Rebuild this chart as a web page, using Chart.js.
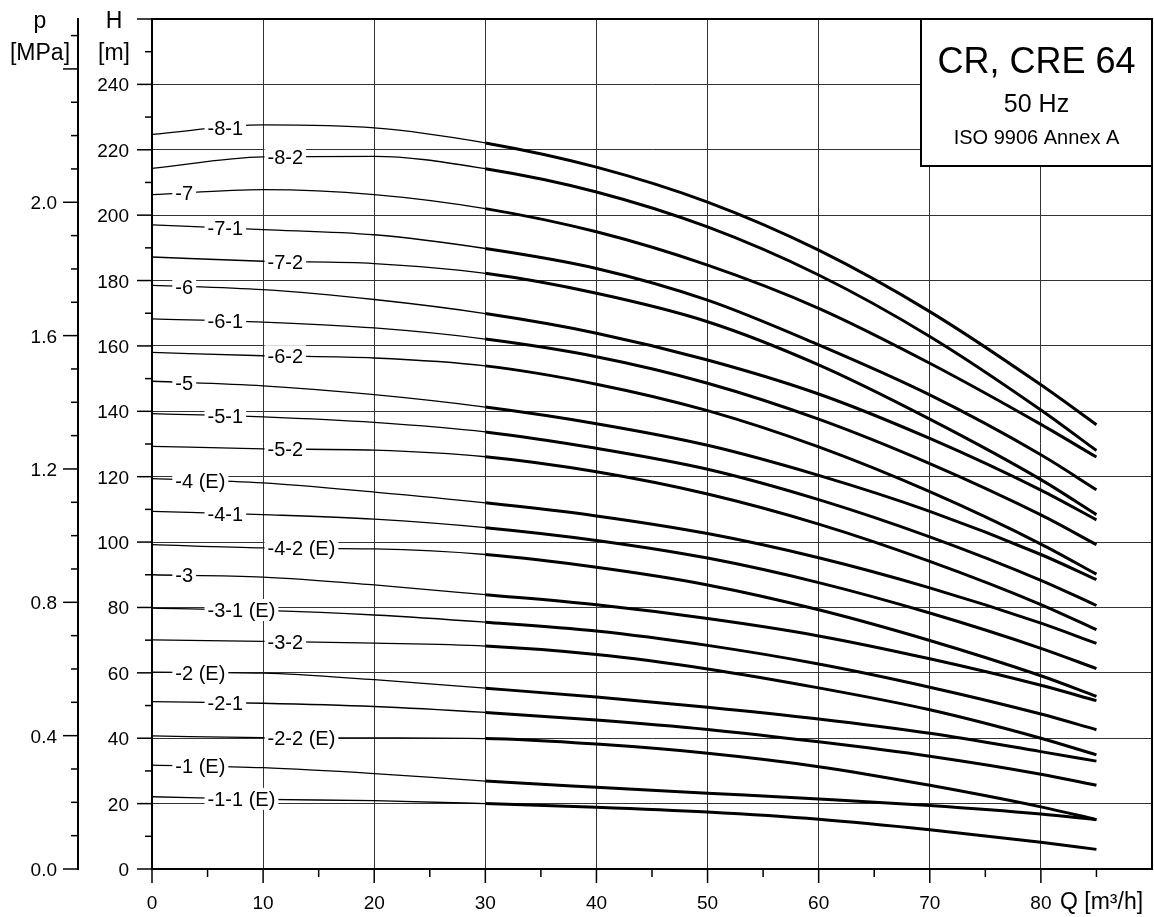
<!DOCTYPE html>
<html>
<head>
<meta charset="utf-8">
<script src="https://cdn.jsdelivr.net/npm/chart.js@4.4.0/dist/chart.umd.min.js"></script>
<style>
  html, body { margin: 0; padding: 0; background: #fff; }
  canvas { display: block; }
</style>
</head>
<body>
<canvas id="pumpChart" width="1154" height="917"></canvas>
<script>
const flows = [0, 10, 20, 30, 40, 50, 60, 70, 80, 85];

// curve names, top to bottom
const curveNames = ['-8-1', '-8-2', '-7', '-7-1', '-7-2', '-6', '-6-1', '-6-2', '-5', '-5-1', '-5-2',
    '-4 (E)', '-4-1', '-4-2 (E)', '-3', '-3-1 (E)', '-3-2', '-2 (E)', '-2-1', '-2-2 (E)', '-1 (E)', '-1-1 (E)'];

// head H [m] for each curve at the flows above
const head81 = [224.7, 227.6, 226.7, 222.1, 214.7, 204.0, 189.3, 170.5, 148.1, 135.9];
const head82 = [214.3, 217.8, 218.0, 214.2, 207.1, 196.4, 181.7, 162.9, 140.4, 128.0];
const head7  = [206.3, 207.8, 206.3, 202.0, 194.9, 184.7, 171.5, 154.7, 136.0, 126.0];
const head71 = [197.0, 195.6, 194.0, 189.8, 183.7, 174.0, 160.3, 145.0, 126.7, 116.0];
const head72 = [187.2, 185.9, 185.2, 182.2, 176.1, 167.4, 154.2, 137.6, 119.1, 108.4];
const head6  = [178.5, 177.2, 174.2, 169.9, 163.9, 155.7, 145.3, 131.7, 115.9, 106.8];
const head61 = [168.3, 167.3, 165.5, 162.1, 156.7, 148.6, 137.6, 124.0, 108.3, 99.2];
const head62 = [158.0, 157.0, 156.3, 153.9, 148.3, 140.2, 129.1, 115.4, 99.4, 90.2];
const head5  = [149.2, 147.8, 145.1, 141.3, 136.2, 129.6, 120.4, 109.4, 96.2, 88.5];
const head51 = [139.3, 138.3, 136.6, 133.7, 128.7, 122.3, 113.0, 101.6, 88.3, 80.6];
const head52 = [129.3, 128.5, 128.1, 126.1, 121.5, 114.7, 105.5, 94.1, 80.9, 73.2];
const head4  = [119.4, 118.1, 115.3, 112.0, 108.0, 102.6, 95.2, 86.0, 75.2, 69.0];
const head41 = [109.4, 108.4, 107.0, 104.4, 100.5, 95.1, 87.6, 78.3, 67.5, 61.3];
const head42 = [99.2, 98.2, 97.9, 96.2, 92.3, 86.9, 79.3, 69.9, 59.1, 52.8];
const head3  = [90.0, 89.3, 86.9, 83.9, 80.8, 76.6, 71.3, 64.3, 56.2, 51.5];
const head31 = [79.8, 79.1, 77.7, 75.5, 72.8, 68.4, 62.7, 55.6, 47.4, 42.6];
const head32 = [70.1, 69.6, 69.1, 68.2, 65.6, 61.2, 55.4, 48.7, 40.0, 34.9];
const head2  = [60.2, 59.9, 57.9, 55.3, 52.6, 49.5, 45.9, 41.5, 35.9, 33.0];
const head21 = [51.2, 50.7, 49.7, 47.9, 45.6, 42.7, 38.9, 34.5, 29.0, 25.6];
const head22 = [40.7, 40.2, 40.1, 39.9, 38.2, 35.4, 31.3, 25.6, 19.0, 15.1];
const head1  = [31.8, 31.0, 29.2, 26.9, 25.0, 23.2, 21.4, 19.4, 16.8, 15.1];
const head11 = [22.1, 21.3, 20.9, 20.0, 18.9, 17.4, 15.2, 12.0, 8.2, 6.0];

const heads = [head81, head82, head7, head71, head72, head6, head61, head62, head5, head51, head52,
    head4, head41, head42, head3, head31, head32, head2, head21, head22, head1, head11];

// tick labels
const hTicks = [0, 20, 40, 60, 80, 100, 120, 140, 160, 180, 200, 220, 240];
const pTicks = [0.0, 0.4, 0.8, 1.2, 1.6, 2.0];
const qTicks = [0, 10, 20, 30, 40, 50, 60, 70, 80];
const titleLines = ['CR, CRE 64', '50 Hz', 'ISO 9906 Annex A'];

const FONT = '"Liberation Sans", Arial, Helvetica, sans-serif';
const M_PER_MPA = 101.97; // water column per MPa
const Q_THICK = 30;       // curves are drawn bold from here on

function strokeLine(ctx, x1, y1, x2, y2) {
    ctx.beginPath();
    ctx.moveTo(x1, y1);
    ctx.lineTo(x2, y2);
    ctx.stroke();
}

// curve labels, axes ticks, titles and the name box
const pumpDecor = {
    id: 'pumpDecor',
    afterDatasetsDraw(chart) {
        const ctx = chart.ctx;
        const xs = chart.scales.x;
        ctx.save();
        ctx.font = '20px ' + FONT;
        chart.data.datasets.forEach((ds, i) => {
            const name = ds.label;
            // three label columns: full stages, -1 and -2 variants
            let startQ = 2.1;
            if (/^-\d-1/.test(name)) startQ = 5.0;
            else if (/^-\d-2/.test(name)) startQ = 10.4;
            const x0 = xs.getPixelForValue(startQ);
            const w = ctx.measureText(name).width;
            const xc = x0 + w / 2;
            const pts = chart.getDatasetMeta(i).data;
            let yc = pts[0].y;
            for (let k = 0; k < pts.length - 1; k++) {
                if (xc >= pts[k].x && xc <= pts[k + 1].x) {
                    const t = (xc - pts[k].x) / (pts[k + 1].x - pts[k].x);
                    yc = pts[k].y + t * (pts[k + 1].y - pts[k].y);
                    break;
                }
            }
            ctx.fillStyle = '#fff';
            ctx.fillRect(x0 - 3, yc - 11, w + 6, 22);
            ctx.fillStyle = '#000';
            ctx.textAlign = 'left';
            ctx.textBaseline = 'alphabetic';
            ctx.fillText(name, x0, yc + 7);
        });
        ctx.restore();
    },
    afterDraw(chart) {
        const ctx = chart.ctx;
        const xs = chart.scales.x;
        const ys = chart.scales.y;
        const a = chart.chartArea;
        ctx.save();
        ctx.strokeStyle = '#000';
        ctx.fillStyle = '#000';
        ctx.textBaseline = 'alphabetic';

        // frame top + right
        ctx.lineWidth = 2;
        ctx.beginPath();
        ctx.moveTo(a.left - 1, a.top);
        ctx.lineTo(a.right, a.top);
        ctx.lineTo(a.right, a.bottom);
        ctx.stroke();

        // H axis ticks
        ctx.lineWidth = 1.5;
        for (let v = 0; v <= ys.max; v += 10) {
            const py = ys.getPixelForValue(v);
            const len = v % 20 === 0 ? 15 : 7;
            strokeLine(ctx, a.left - len, py, a.left, py);
        }
        ctx.font = '19px ' + FONT;
        ctx.textAlign = 'right';
        hTicks.forEach(v => {
            ctx.fillText(String(v), 129, ys.getPixelForValue(v) + 7);
        });

        // p axis (same scale, converted from MPa to m)
        const pX = 78;
        ctx.lineWidth = 2;
        strokeLine(ctx, pX, ys.getPixelForValue(0) + 1, pX, ys.getPixelForValue(ys.max) - 1);
        ctx.lineWidth = 1.5;
        const pMax = ys.max / M_PER_MPA;
        for (let k = 0; k / 10 <= pMax; k++) {
            const py = ys.getPixelForValue(k / 10 * M_PER_MPA);
            const len = k % 4 === 0 ? 15 : 7;
            strokeLine(ctx, pX - len, py, pX, py);
        }
        pTicks.forEach(p => {
            ctx.fillText(p.toFixed(1), 57, ys.getPixelForValue(p * M_PER_MPA) + 7);
        });

        // Q axis ticks
        for (let q = 0; q <= 85; q += 5) {
            const px = xs.getPixelForValue(q);
            const len = q % 10 === 0 ? 14 : 8;
            strokeLine(ctx, px, a.bottom, px, a.bottom + len);
        }
        ctx.textAlign = 'center';
        qTicks.forEach(q => {
            ctx.fillText(String(q), xs.getPixelForValue(q), 909);
        });

        // axis titles
        ctx.font = '23px ' + FONT;
        ctx.fillText('p', 40, 28);
        ctx.fillText('[MPa]', 40, 60);
        ctx.fillText('H', 114, 28);
        ctx.fillText('[m]', 114, 60);
        ctx.textAlign = 'left';
        ctx.fillText('Q [m\u00b3/h]', 1060, 909);

        // name box top right
        const bx = 921, by = a.top, bw = a.right - 921, bh = 147;
        ctx.fillStyle = '#fff';
        ctx.fillRect(bx, by, bw, bh);
        ctx.lineWidth = 2;
        ctx.strokeRect(bx, by, bw, bh);
        ctx.fillStyle = '#000';
        ctx.textAlign = 'center';
        const cx = bx + bw / 2;
        ctx.font = '36px ' + FONT;
        ctx.fillText(titleLines[0], cx, 73);
        ctx.font = '25px ' + FONT;
        ctx.fillText(titleLines[1], cx, 112);
        ctx.font = '20px ' + FONT;
        ctx.fillText(titleLines[2], cx, 144);
        ctx.restore();
    }
};

const datasets = curveNames.map((name, i) => ({
    label: name,
    data: flows.map((q, k) => ({ x: q, y: heads[i][k] })),
    borderColor: '#000',
    borderWidth: 3,
    pointRadius: 0,
    cubicInterpolationMode: 'monotone',
    segment: {
        borderWidth: ctx => (ctx.p0.parsed.x >= Q_THICK ? 3 : 1.3)
    }
}));

new Chart(document.getElementById('pumpChart'), {
    type: 'line',
    data: { datasets: datasets },
    options: {
        responsive: false,
        animation: false,
        devicePixelRatio: 1,
        layout: {
            autoPadding: false,
            padding: { left: 152, top: 19, right: 2, bottom: 48 }
        },
        plugins: {
            legend: { display: false },
            tooltip: { enabled: false }
        },
        scales: {
            x: {
                type: 'linear',
                min: 0,
                max: 90,
                ticks: { display: false, stepSize: 10 },
                grid: { color: '#333', lineWidth: 1, drawTicks: false },
                border: { display: true, color: '#000', width: 2 }
            },
            y: {
                type: 'linear',
                min: 0,
                max: 260,
                ticks: { display: false, stepSize: 20 },
                grid: { color: '#333', lineWidth: 1, drawTicks: false },
                border: { display: true, color: '#000', width: 2 }
            }
        }
    },
    plugins: [pumpDecor]
});
</script>
</body>
</html>
